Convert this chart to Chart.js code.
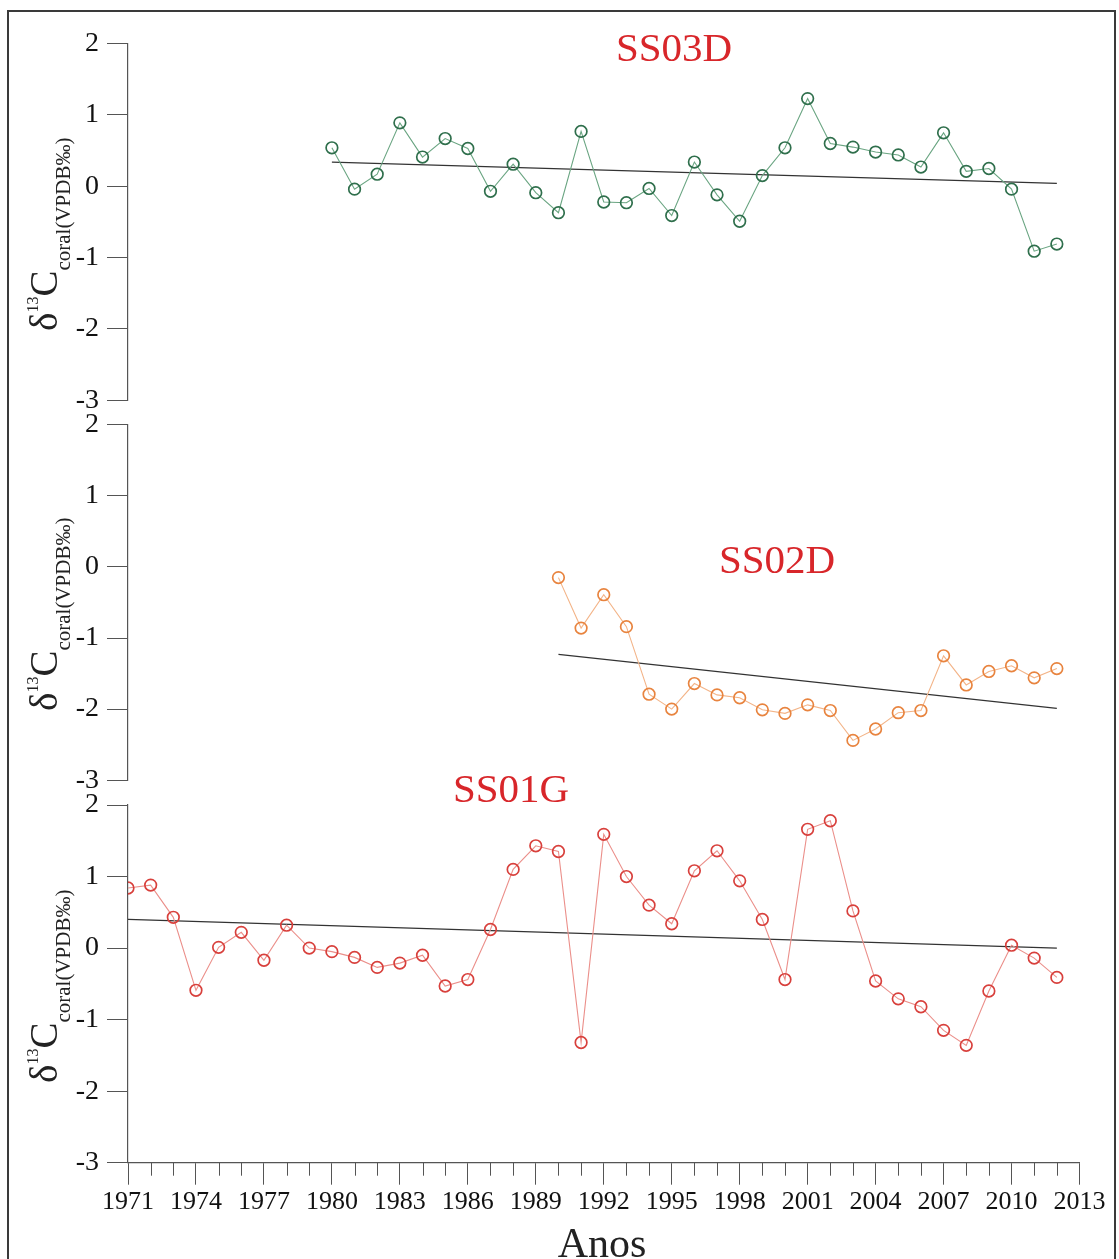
<!DOCTYPE html>
<html>
<head>
<meta charset="utf-8">
<script src="https://cdn.jsdelivr.net/npm/chart.js@4.4.1/dist/chart.umd.min.js"></script>
<style>
  body { margin: 0; background: #fff; overflow: hidden; }
  #wrap { position: relative; width: 1119px; height: 1259px; overflow: hidden; }
  #frame { position: absolute; left: 7px; top: 10px; width: 1109px; height: 1300px; box-sizing: border-box; border: 2.5px solid #3a3a3a; }
  canvas { position: absolute; left: 0; }
  .lbl { position: absolute; font-family: 'Liberation Serif', 'Times New Roman', serif; line-height: 1; white-space: nowrap; transform: translate(-50%, -50%); }
  .titulo { font-size: 41px; color: #d8262a; }
  .anos { font-size: 42px; color: #222; }
  .ytit { position: absolute; width: 230px; height: 50px; line-height: 50px; font-family: 'Liberation Serif', 'Times New Roman', serif; font-size: 39px; color: #222; white-space: nowrap; transform-origin: 0 0; transform: rotate(-90deg); }
  .ytit span { position: relative; line-height: 1; }
  .ytit .sup { font-size: 16px; top: -19px; }
  .ytit .sub { font-size: 21px; top: 13px; }
</style>
</head>
<body>
<div id="wrap">
  <div id="frame"></div>
  <canvas id="c1" width="1119" height="425" style="top:0px"></canvas>
  <canvas id="c2" width="1119" height="405" style="top:400px"></canvas>
  <canvas id="c3" width="1119" height="479" style="top:780px"></canvas>

  <div class="lbl titulo" style="left:674px; top:47px">SS03D</div>
  <div class="lbl titulo" style="left:777px; top:559px">SS02D</div>
  <div class="lbl titulo" style="left:511px; top:788px">SS01G</div>
  <div class="lbl anos" style="left:602px; top:1243px">Anos</div>

  <div class="ytit" style="left:19px; top:331px">δ<span class="sup">13</span>C<span class="sub">coral(VPDB‰)</span></div>
  <div class="ytit" style="left:19px; top:711px">δ<span class="sup">13</span>C<span class="sub">coral(VPDB‰)</span></div>
  <div class="ytit" style="left:19px; top:1083px">δ<span class="sup">13</span>C<span class="sub">coral(VPDB‰)</span></div>
</div>

<script>
const xMin = 1971, xMax = 2013;
const yTicks = [-3, -2, -1, 0, 1, 2];

// SS03D (topo)
const anosSS03D = [1980,1981,1982,1983,1984,1985,1986,1987,1988,1989,1990,1991,1992,1993,1994,1995,1996,1997,1998,1999,2000,2001,2002,2003,2004,2005,2006,2007,2008,2009,2010,2011,2012];
const valSS03D = [0.54,-0.04,0.17,0.89,0.41,0.67,0.53,-0.07,0.31,-0.09,-0.37,0.77,-0.22,-0.23,-0.03,-0.41,0.34,-0.12,-0.49,0.15,0.54,1.23,0.60,0.55,0.48,0.44,0.27,0.75,0.21,0.25,-0.04,-0.91,-0.81];
const tendSS03D = [[1980, 0.34], [2012, 0.04]];

// SS02D (meio)
const anosSS02D = [1990,1991,1992,1993,1994,1995,1996,1997,1998,1999,2000,2001,2002,2003,2004,2005,2006,2007,2008,2009,2010,2011,2012];
const valSS02D = [-0.15,-0.86,-0.39,-0.84,-1.79,-2.00,-1.64,-1.80,-1.84,-2.01,-2.06,-1.94,-2.02,-2.44,-2.28,-2.05,-2.02,-1.25,-1.66,-1.47,-1.39,-1.56,-1.43];
const tendSS02D = [[1990, -1.23], [2012, -1.99]];

// SS01G (baixo)
const anosSS01G = [1971,1972,1973,1974,1975,1976,1977,1978,1979,1980,1981,1982,1983,1984,1985,1986,1987,1988,1989,1990,1991,1992,1993,1994,1995,1996,1997,1998,1999,2000,2001,2002,2003,2004,2005,2006,2007,2008,2009,2010,2011,2012];
const valSS01G = [0.84,0.88,0.43,-0.59,0.01,0.22,-0.17,0.32,0.00,-0.05,-0.13,-0.27,-0.21,-0.10,-0.53,-0.44,0.26,1.10,1.43,1.35,-1.32,1.59,1.00,0.60,0.34,1.08,1.36,0.94,0.40,-0.44,1.66,1.78,0.52,-0.46,-0.71,-0.82,-1.15,-1.36,-0.60,0.04,-0.14,-0.41];
const tendSS01G = [[1971, 0.40], [2012, 0.00]];

const fonte = "'Liberation Serif', 'Times New Roman', serif";
const corEixo = '#555';

function pares(anos, vals) {
    return anos.map((a, i) => ({ x: a, y: vals[i] }));
}

// ticks menores (cada ano) no eixo x
const ticksMenores = {
    id: 'ticksMenores',
    afterDraw(chart) {
        const sx = chart.scales.x;
        if (!sx.options.display) return;
        const ctx = chart.ctx;
        ctx.save();
        ctx.strokeStyle = corEixo;
        ctx.lineWidth = 1;
        for (let a = xMin; a <= xMax; a++) {
            if ((a - xMin) % 3 === 0) continue;
            const px = Math.round(sx.getPixelForValue(a)) + 0.5;
            ctx.beginPath();
            ctx.moveTo(px, sx.top);
            ctx.lineTo(px, sx.top + 13);
            ctx.stroke();
        }
        ctx.restore();
    }
};

function criaGrafico(id, anos, vals, tend, corLinha, corPonto, padTop, padBottom, mostraX) {
    const ctx = document.getElementById(id).getContext('2d');
    return new Chart(ctx, {
        type: 'line',
        data: {
            datasets: [{
                data: pares(anos, vals),
                borderColor: corLinha,
                borderWidth: 1.1,
                pointRadius: 5.8,
                pointBorderWidth: 1.7,
                pointBorderColor: corPonto,
                pointBackgroundColor: 'rgba(0,0,0,0)',
                tension: 0,
                fill: false
            }, {
                data: tend.map(p => ({ x: p[0], y: p[1] })),
                borderColor: '#333',
                borderWidth: 1.2,
                pointRadius: 0,
                fill: false
            }]
        },
        options: {
            responsive: false,
            animation: false,
            layout: { padding: { top: padTop, bottom: padBottom, left: 0, right: 39.5 } },
            plugins: { legend: { display: false }, tooltip: { enabled: false } },
            scales: {
                x: {
                    type: 'linear',
                    display: mostraX,
                    min: xMin,
                    max: xMax,
                    afterFit: s => { if (mostraX) s.height = 96.3; },
                    border: { display: true, color: corEixo, width: 1.2 },
                    grid: {
                        drawOnChartArea: false,
                        drawTicks: true,
                        tickLength: 22,
                        tickColor: c => ((c.tick && (c.tick.value - xMin) % 3 === 0) ? corEixo : 'rgba(0,0,0,0)')
                    },
                    ticks: {
                        stepSize: 1,
                        autoSkip: false,
                        maxRotation: 0,
                        padding: 2,
                        color: '#111',
                        font: { family: fonte, size: 26 },
                        callback: v => ((v - xMin) % 3 === 0 ? String(v) : '')
                    }
                },
                y: {
                    min: -3,
                    max: 2,
                    afterFit: s => { s.width = 128; },
                    afterBuildTicks: s => { s.ticks = yTicks.map(v => ({ value: v })); },
                    border: { display: true, color: corEixo, width: 1.2 },
                    grid: { drawOnChartArea: false, drawTicks: true, tickLength: 21, tickColor: corEixo },
                    ticks: {
                        padding: 8,
                        color: '#111',
                        font: { family: fonte, size: 28 }
                    }
                }
            }
        },
        plugins: [ticksMenores]
    });
}

criaGrafico('c1', anosSS03D, valSS03D, tendSS03D, '#6aa582', '#2f6f4c', 43.7, 24, false);
criaGrafico('c2', anosSS02D, valSS02D, tendSS02D, '#f3b488', '#e8843f', 24, 23.3, false);
criaGrafico('c3', anosSS01G, valSS01G, tendSS01G, '#eb8f8a', '#d8403c', 25, 0, true);
</script>
</body>
</html>
